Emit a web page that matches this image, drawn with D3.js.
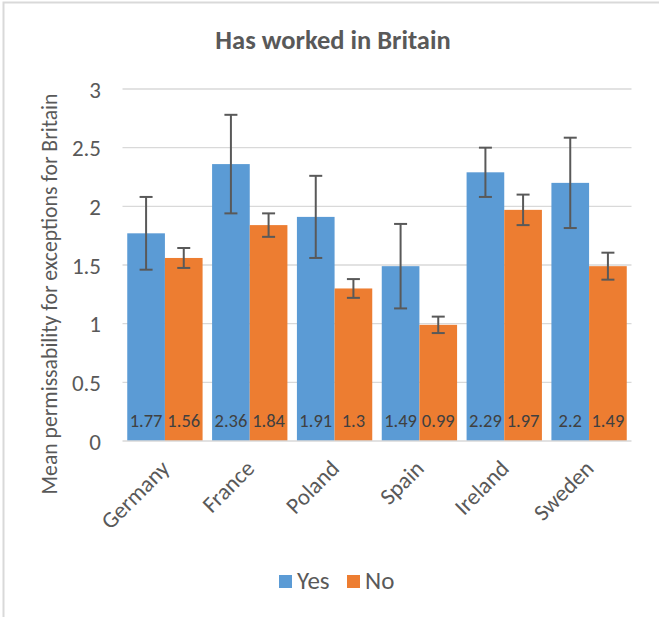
<!DOCTYPE html>
<html><head><meta charset="utf-8">
<script src="https://cdn.jsdelivr.net/npm/d3@7"></script>
<style>
html,body{margin:0;padding:0;background:#fff;}
svg{display:block;font-family:Carlito, Lato, sans-serif;}
</style></head>
<body>
<svg id="chart" width="659" height="617"></svg>
<script>
const categories = ["Germany","France","Poland","Spain","Ireland","Sweden"];
const seriesNames = ["Yes","No"];
const yesValues = [1.77, 2.36, 1.91, 1.49, 2.29, 2.2];
const noValues  = [1.56, 1.84, 1.3, 0.99, 1.97, 1.49];
const yesErrors = [0.31, 0.42, 0.35, 0.36, 0.21, 0.385];
const noErrors  = [0.085, 0.10, 0.08, 0.07, 0.13, 0.115];
const yTicks = [0, 0.5, 1, 1.5, 2, 2.5, 3];
const yTickLabels = ["0","0.5","1","1.5","2","2.5","3"];
const colors = ["#5B9BD5", "#ED7D31"];
const title = "Has worked in Britain";
const yTitle = "Mean permissability for exceptions for Britain";

const svg = d3.select("#chart");
const plot = {left: 122.5, right: 631.5, top: 89, bottom: 441};

// frame
svg.append("rect").attr("x", 3.5).attr("y", 2.5).attr("width", 700).attr("height", 700)
  .attr("fill", "#fff").attr("stroke", "#d9d9d9").attr("stroke-width", 2);

const x0 = d3.scaleBand().domain(categories).range([plot.left, plot.right]).paddingInner(0.112).paddingOuter(0.056);
const x1 = d3.scaleBand().domain(seriesNames).range([0, x0.bandwidth()]);
const y = d3.scaleLinear().domain([0, 3]).range([plot.bottom, plot.top]);

// gridlines
svg.append("g").selectAll("line").data(yTicks.filter(t => t > 0)).join("line")
  .attr("x1", plot.left).attr("x2", plot.right)
  .attr("y1", d => y(d)).attr("y2", d => y(d))
  .attr("stroke", "#d9d9d9").attr("stroke-width", 1.3);

// y axis labels
const yAxis = d3.axisLeft(y).tickValues(yTicks).tickFormat((d, i) => yTickLabels[i]).tickSize(0).tickPadding(0);
const yg = svg.append("g").attr("transform", `translate(101,0)`).call(yAxis);
yg.select(".domain").remove();
yg.selectAll("text").attr("fill", "#595959").attr("font-size", 23).attr("font-family", "Carlito, Lato, sans-serif").attr("dy", "0.35em");

const rows = categories.map((c, i) => ({
  cat: c,
  vals: [
    {s: "Yes", v: yesValues[i], e: yesErrors[i], c: colors[0]},
    {s: "No", v: noValues[i], e: noErrors[i], c: colors[1]}
  ]
}));

const groups = svg.append("g").selectAll("g").data(rows).join("g")
  .attr("transform", d => `translate(${x0(d.cat)},0)`);

groups.selectAll("rect").data(d => d.vals).join("rect")
  .attr("x", d => x1(d.s)).attr("width", x1.bandwidth())
  .attr("y", d => y(d.v)).attr("height", d => y(0) - y(d.v))
  .attr("fill", d => d.c);

// baseline
svg.append("line").attr("x1", plot.left).attr("x2", plot.right)
  .attr("y1", y(0)).attr("y2", y(0)).attr("stroke", "#d9d9d9").attr("stroke-width", 1.5);

// error bars
const eb = groups.selectAll("g.eb").data(d => d.vals).join("g").attr("class", "eb")
  .attr("transform", d => `translate(${x1(d.s) + x1.bandwidth() / 2},0)`);
eb.append("line").attr("x1", 0).attr("x2", 0)
  .attr("y1", d => y(d.v + d.e)).attr("y2", d => y(d.v - d.e));
eb.append("line").attr("x1", -6.5).attr("x2", 6.5)
  .attr("y1", d => y(d.v + d.e)).attr("y2", d => y(d.v + d.e));
eb.append("line").attr("x1", -6.5).attr("x2", 6.5)
  .attr("y1", d => y(d.v - d.e)).attr("y2", d => y(d.v - d.e));
eb.selectAll("line").attr("stroke", "#595959").attr("stroke-width", 2);

// data labels
groups.selectAll("text.dl").data(d => d.vals).join("text").attr("class", "dl")
  .attr("x", d => x1(d.s) + x1.bandwidth() / 2).attr("y", 427)
  .attr("text-anchor", "middle").attr("font-size", 18.5).attr("fill", "#404040")
  .text(d => String(d.v));

// x labels
svg.append("g").selectAll("text").data(categories).join("text")
  .attr("transform", d => `translate(${x0(d) + x0.bandwidth() / 2 + 6},${470}) rotate(-45)`)
  .attr("text-anchor", "end")
  .attr("font-size", 23).attr("fill", "#595959").text(d => d);

// title
svg.append("text").attr("x", 333).attr("y", 49).attr("text-anchor", "middle")
  .attr("font-size", 26.5).attr("font-weight", "bold").attr("fill", "#595959").text(title);

// y title
svg.append("text").attr("transform", `translate(57,294) rotate(-90)`)
  .attr("text-anchor", "middle").attr("font-size", 21.7).attr("fill", "#595959").text(yTitle);

// legend
const legend = svg.append("g");
const legX = [279, 347];
seriesNames.forEach((s, i) => {
  legend.append("rect").attr("x", legX[i]).attr("y", 575).attr("width", 13).attr("height", 13).attr("fill", colors[i]);
  legend.append("text").attr("x", legX[i] + 18).attr("y", 589).attr("font-size", 25).attr("fill", "#595959").text(s);
});
</script>
</body></html>
